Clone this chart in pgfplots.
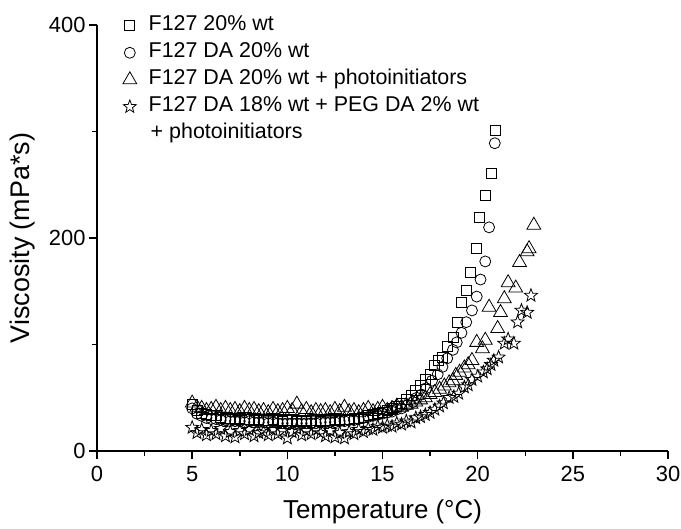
\documentclass[border=0pt]{standalone}
\usepackage{pgfplots}
\pgfplotsset{compat=1.18}
\usepackage{fontspec}
\setmainfont{Liberation Sans}

% open five-pointed star
\pgfdeclareplotmark{ostar}{%
  \pgfpathmoveto{\pgfpointpolar{90}{\pgfplotmarksize}}%
  \pgfpathlineto{\pgfpointpolar{126}{0.42\pgfplotmarksize}}%
  \pgfpathlineto{\pgfpointpolar{162}{\pgfplotmarksize}}%
  \pgfpathlineto{\pgfpointpolar{198}{0.42\pgfplotmarksize}}%
  \pgfpathlineto{\pgfpointpolar{234}{\pgfplotmarksize}}%
  \pgfpathlineto{\pgfpointpolar{270}{0.42\pgfplotmarksize}}%
  \pgfpathlineto{\pgfpointpolar{306}{\pgfplotmarksize}}%
  \pgfpathlineto{\pgfpointpolar{342}{0.42\pgfplotmarksize}}%
  \pgfpathlineto{\pgfpointpolar{18}{\pgfplotmarksize}}%
  \pgfpathlineto{\pgfpointpolar{54}{0.42\pgfplotmarksize}}%
  \pgfpathclose
  \pgfusepathqstroke}

\pgfplotstableread{
T V
5.00 44
5.25 38
5.50 35
5.75 34
6.00 33
6.25 33
6.50 32
6.75 31
7.00 31
7.25 30
7.50 31
7.75 30
8.00 30
8.25 29
8.50 30
8.75 29
9.00 29
9.25 30
9.50 29
9.75 28
10.00 29
10.25 29
10.50 28
10.75 29
11.00 28
11.25 29
11.50 29
11.75 28
12.00 29
12.25 29
12.50 30
12.75 29
13.00 30
13.25 30
13.50 31
13.75 31
14.00 32
14.25 33
14.50 34
14.75 35
15.00 36
15.25 38
15.50 40
15.75 42
16.00 45
16.25 48
16.50 52
16.75 57
17.00 62
17.25 67
17.50 72
17.75 80
17.95 85
18.15 88
18.40 98
18.70 107
18.95 121
19.15 140
19.40 151
19.60 168
19.95 190
20.10 219
20.40 240
20.70 261
20.95 301
}\sqdata

\pgfplotstableread{
T V
5.00 40
5.25 35
5.50 33
5.75 31
6.00 30
6.25 30
6.50 29
6.75 29
7.00 28
7.25 28
7.50 28
7.75 27
8.00 28
8.25 27
8.50 27
8.75 27
9.00 26
9.25 27
9.50 26
9.75 26
10.00 26
10.25 26
10.50 26
10.75 26
11.00 26
11.25 26
11.50 26
11.75 27
12.00 27
12.25 27
12.50 27
12.75 28
13.00 28
13.25 29
13.50 29
13.75 30
14.00 31
14.25 32
14.50 33
14.75 34
15.00 35
15.25 36
15.50 37
15.75 39
16.00 40
16.30 43
16.60 46
16.80 50
17.05 53
17.30 59
17.60 66
17.90 72
18.15 79
18.40 87
18.70 95
18.90 102
19.15 111
19.40 121
19.70 132
19.95 145
20.15 161
20.40 178
20.60 210
20.90 289
}\cidata

\pgfplotstableread{
T V
5.00 45
5.25 41
5.50 40
5.75 38
6.00 39
6.25 41
6.50 38
6.75 40
7.00 38
7.25 39
7.50 37
7.75 40
8.00 38
8.25 39
8.50 37
8.75 38
9.00 36
9.25 39
9.50 37
9.75 38
10.00 40
10.25 38
10.50 44
10.75 37
11.00 39
11.25 36
11.50 38
11.75 37
12.00 38
12.25 36
12.50 39
12.75 37
13.00 41
13.25 37
13.50 38
13.75 36
14.00 38
14.25 40
14.50 37
14.75 39
15.00 41
15.25 38
15.50 40
15.75 42
16.00 41
16.25 43
16.50 44
16.75 46
17.00 48
17.25 50
17.50 53
17.75 55
18.00 58
18.25 61
18.50 64
18.70 66
18.85 71
19.05 74
19.30 78
19.50 81
19.70 85
19.95 102
20.25 96
20.40 104
20.60 135
21.05 115
21.20 130
21.40 143
21.60 158
22.00 153
22.20 177
22.60 187
22.70 190
22.95 212
}\trdata

\pgfplotstableread{
T V
5.00 22
5.25 17
5.50 20
5.75 15
6.00 19
6.25 16
6.50 21
6.75 14
7.00 18
7.25 13
7.50 19
7.75 16
8.00 20
8.25 14
8.50 17
8.75 18
9.00 15
9.25 20
9.50 16
9.75 19
10.00 12
10.25 18
10.50 21
10.75 15
11.00 19
11.25 16
11.50 20
11.75 17
12.00 14
12.25 19
12.50 13
12.75 17
13.00 12
13.25 18
13.50 16
13.75 20
14.00 18
14.25 21
14.50 20
14.75 23
15.00 22
15.25 24
15.50 23
15.75 26
16.00 25
16.25 28
16.50 27
16.75 31
17.00 32
17.25 34
17.50 36
17.75 39
18.00 42
18.20 45
18.50 50
18.75 51
19.00 54
19.30 60
19.50 62
19.70 67
20.00 70
20.30 74
20.50 77
20.70 81
20.85 85
21.10 88
21.40 101
21.60 105
21.90 101
22.10 121
22.30 132
22.60 130
22.80 146
}\stdata

\begin{document}
\begin{tikzpicture}
\path[use as bounding box] (-97bp,-78bp) rectangle (584bp,451bp);
\begin{axis}[
    at={(0,0)}, anchor=south west,
    scale only axis,
    width=571bp, height=426bp,
    xmin=0, xmax=30, ymin=0, ymax=400,
    axis lines=left,
    axis line style={-, line width=1.5bp},
    xtick={0,5,...,30}, ytick={0,200,400},
    minor x tick num=1, minor y tick num=1,
    tick align=outside,
    major tick length=8bp, minor tick length=5bp,
    tick style={line width=1.5bp, black},
    ticklabel style={font=\fontsize{22}{26}\selectfont},
    xticklabel style={yshift=-4bp},
    /pgf/number format/assume math mode=true,
    xlabel={Temperature (°C)},
    ylabel={Viscosity (mPa*s)},
    xlabel style={font=\fontsize{26}{30}\selectfont, at={(axis description cs:0.5,-0.143)}, anchor=center},
    ylabel style={font=\fontsize{27}{31}\selectfont, at={(axis description cs:-0.131,0.5)}, anchor=center},
    legend style={at={(axis description cs:0.037,1.035)}, anchor=north west,
        draw=none, fill=none, font=\fontsize{21.5}{25}\selectfont,
        row sep=0pt, column sep=9bp,
        nodes={inner sep=3bp, text height=15.5bp, text depth=5.5bp}},
    legend cell align=left,
    every axis plot/.append style={only marks, black, mark options={line width=0.8bp, solid}},
]
\addplot[mark=square, mark size=5bp] table[x=T, y=V] {\sqdata};
\addlegendentry{F127 20\% wt}
\addplot[mark=o, mark size=5.5bp] table[x=T, y=V] {\cidata};
\addlegendentry{F127 DA 20\% wt}
\addplot[mark=triangle, mark size=8bp] table[x=T, y=V] {\trdata};
\addlegendentry{F127 DA 20\% wt + photoinitiators}
\addplot[mark=ostar, mark size=6.8bp] table[x=T, y=V] {\stdata};
\addlegendentry{F127 DA 18\% wt + PEG DA 2\% wt}
\addlegendimage{empty legend}
\addlegendentry{\hspace{2bp}+ photoinitiators}
\end{axis}
\end{tikzpicture}
\end{document}
